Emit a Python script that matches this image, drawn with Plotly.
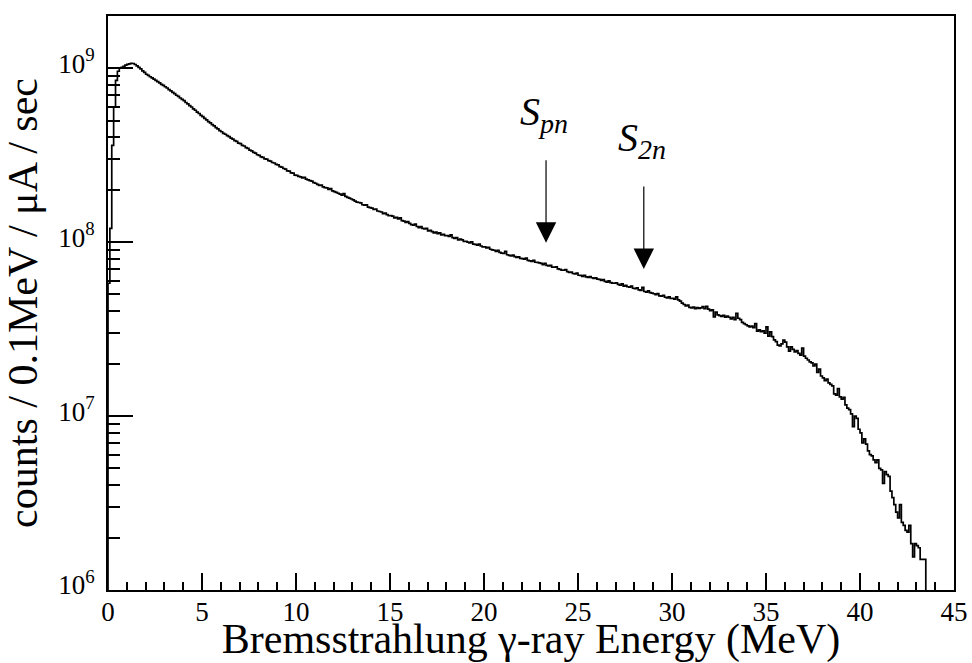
import numpy as np
import plotly.graph_objects as go

# Bremsstrahlung photon spectrum, 0.1 MeV bins starting at 0 MeV.
# Bin contents in units of 1e6 counts / 0.1 MeV / uA / sec.
BIN_WIDTH = 0.1
E_START = 0.0

counts_0_10 = [
    58, 120, 360, 600, 850, 960, 1000, 1010, 1025, 1040,
    1052, 1060, 1066, 1064, 1050, 1032, 1010, 990, 966, 945,
    923, 909, 893, 880, 864, 851, 836, 824, 808, 796,
    782, 769, 753, 741, 726, 714, 699, 689, 674, 662,
    651, 635, 624, 609, 598, 583, 573, 559, 549, 536,
    526, 514, 505, 493, 485, 474, 466, 455, 448, 438,
    431, 422, 417, 409, 404, 396, 391, 383, 379, 371,
    368, 360, 357, 349, 346, 338, 335, 328, 325, 318,
    315, 309, 307, 301, 300, 294, 292, 287, 285, 280,
    278, 272, 270, 265, 263, 257, 256, 250, 249, 243,
]
counts_10_20 = [
    242, 239, 237, 234, 236, 230, 228, 226, 224, 220,
    218, 215, 212, 213, 208, 206, 205, 201, 203, 197,
    195, 193, 191, 189, 186, 190, 183, 181, 179, 177,
    175, 172, 170, 169, 168, 164, 163, 164, 159, 158,
    157, 154, 155, 151, 150, 149, 146, 147, 144, 142,
    142, 141, 138, 139, 136, 138, 133, 132, 130, 131,
    128, 126, 125, 127, 123, 121, 123, 120, 119, 120,
    116, 117, 115, 113, 114, 112, 113, 110, 111, 109,
    109, 108, 110, 106, 105, 106, 103, 104, 103, 101,
    101, 100, 99, 100.5, 97.5, 97, 96, 97.5, 95, 94,
]
counts_20_30 = [
    94.0, 92.6, 93.4, 91.0, 90.3, 89.8, 88.5, 89.7, 87.2, 86.5,
    86.0, 88.6, 84.6, 84.0, 83.2, 84.1, 82.5, 81.6, 82.3, 80.6,
    80.4, 79.8, 80.9, 78.6, 78.0, 77.6, 78.6, 76.6, 76.4, 75.9,
    75.4, 74.2, 75.6, 73.5, 72.9, 73.6, 71.8, 71.7, 72.1, 70.2,
    69.7, 69.1, 68.9, 69.6, 67.6, 66.9, 67.3, 66.0, 65.7, 66.4,
    64.5, 64.4, 63.6, 64.5, 63.2, 62.7, 63.4, 62.4, 61.8, 62.3,
    61.3, 61.0, 60.2, 60.9, 59.4, 58.9, 59.8, 58.5, 58.1, 58.0,
    58.4, 57.2, 56.5, 57.6, 55.8, 56.4, 55.4, 55.1, 55.9, 54.3,
    54.1, 54.6, 53.2, 52.8, 55.0, 52.0, 51.6, 52.4, 51.3, 50.9,
    50.5, 49.9, 50.6, 49.1, 48.9, 49.5, 48.2, 47.8, 48.4, 47.4,
]
counts_30_end = [
    47.5, 47.0, 48.5, 46.5, 45.8, 44.6, 43.8, 43.0, 43.4, 42.2,
    41.8, 42.3, 41.5, 42.0, 41.6, 41.9, 42.6, 41.4, 42.8, 41.2,
    40.4, 40.8, 37.2, 39.6, 38.2, 37.8, 37.4, 37.9, 37.0, 37.5,
    37.0, 36.2, 37.0, 35.8, 39.0, 36.5, 35.8, 34.6, 34.0, 33.5,
    33.0, 32.6, 32.9, 32.2, 34.0, 30.8, 31.3, 30.6, 30.9, 30.0,
    32.6, 28.8, 30.5, 28.6, 27.4, 26.8, 25.6, 25.3, 26.0, 27.3,
    26.6, 25.0, 23.6, 25.0, 24.2, 23.4, 23.8, 22.9, 22.4, 24.6,
    22.1, 21.5, 21.0, 20.5, 20.2, 19.4, 19.9, 17.8, 18.6, 17.0,
    16.6, 16.0, 16.3, 15.5, 15.2, 14.9, 13.4, 13.2, 14.4, 12.9,
    12.5, 12.8, 11.6, 11.1, 10.9, 10.3, 8.7, 10.0, 9.7, 8.4,
    8.0, 7.0, 7.4, 6.9, 6.3, 6.0, 5.9, 5.6, 5.4, 5.6,
    5.0, 4.9, 4.1, 4.8, 4.6, 4.5, 3.7, 3.4, 3.1, 2.8,
    2.6, 3.1, 2.45, 2.35, 2.2, 2.15, 2.35, 1.85, 1.55, 1.85,
    1.8, 1.75, 1.5, 1.5, 1.5,
]

# Reaction thresholds marked on the spectrum (MeV)
threshold_energies = [23.3, 28.5]
threshold_labels = ["<i>S<sub>pn</sub></i>", "<i>S<sub>2n</sub></i>"]

# Axis ticks
x_major = [0, 5, 10, 15, 20, 25, 30, 35, 40, 45]
y_decades = [6, 7, 8, 9]

X_RANGE = [0, 45]
Y_LOG_RANGE = [6, 9.3]

counts = np.array(counts_0_10 + counts_10_20 + counts_20_30 + counts_30_end) * 1e6
n_bins = len(counts)
edges = E_START + BIN_WIDTH * np.arange(n_bins + 1)

# Step outline: rise from the axis floor, follow each bin, fall back at the last edge
floor = 10 ** Y_LOG_RANGE[0]
x_step = np.concatenate([[edges[0]], edges[:-1], [edges[-1], edges[-1]]])
y_step = np.concatenate([[floor], counts, [counts[-1], floor]])

FONT = "Liberation Serif"

fig = go.Figure()
fig.add_trace(go.Scatter(
    x=x_step, y=y_step, mode="lines", line_shape="hv",
    line=dict(color="black", width=1.7), showlegend=False, hoverinfo="skip",
))


def bin_content(e):
    return counts[int((e - E_START) / BIN_WIDTH + 1e-9)]


annotations = []
for e, lab in zip(threshold_energies, threshold_labels):
    tip = np.log10(bin_content(e)) + 0.13
    annotations.append(dict(
        x=e, y=tip, xref="x", yref="y", text="", showarrow=True,
        ax=0, ay=-84, arrowhead=2, arrowsize=3.4, arrowwidth=1.2,
        arrowcolor="black", standoff=0,
    ))
    annotations.append(dict(
        x=e, y=tip, xref="x", yref="y", text=lab, showarrow=False,
        yanchor="bottom", xanchor="center", yshift=102, xshift=-2,
        font=dict(family=FONT, size=40, color="black"),
    ))

minor_y = [k * 10 ** d for d in y_decades for k in range(2, 10)
           if np.log10(k * 10 ** d) < Y_LOG_RANGE[1]]

fig.update_layout(
    width=972, height=663,
    margin=dict(l=108, r=18, t=16, b=73),
    paper_bgcolor="white", plot_bgcolor="white",
    font=dict(family=FONT, color="black"),
    annotations=annotations,
    xaxis=dict(
        range=X_RANGE, tickvals=x_major, ticktext=[str(v) for v in x_major],
        ticks="inside", ticklen=17, tickwidth=1.5, tickcolor="black",
        minor=dict(ticks="inside", ticklen=8, tickwidth=1.5, tickcolor="black", dtick=1),
        showline=True, linewidth=2, linecolor="black", mirror=True,
        showgrid=False, zeroline=False, automargin=False,
        tickfont=dict(family=FONT, size=27, color="black"),
        ticklabelstandoff=-3,
        title=dict(text="Bremsstrahlung γ-ray Energy (MeV)",
                   font=dict(family=FONT, size=42, color="black"), standoff=0),
    ),
    yaxis=dict(
        type="log", range=Y_LOG_RANGE,
        tickvals=[10 ** d for d in y_decades],
        ticktext=[f"10<sup>{d}</sup>" for d in y_decades],
        ticks="inside", ticklen=25, tickwidth=1.5, tickcolor="black",
        minor=dict(ticks="inside", ticklen=12, tickwidth=1.5, tickcolor="black",
                   tickvals=minor_y),
        showline=True, linewidth=2, linecolor="black", mirror=True,
        showgrid=False, zeroline=False, automargin=False,
        tickfont=dict(family=FONT, size=27, color="black"),
        ticklabelstandoff=6, ticklabelshift=-5,
        title=dict(text="counts / 0.1MeV / μA / sec",
                   font=dict(family=FONT, size=42, color="black"), standoff=8),
    ),
)

fig.write_html("out.html")
